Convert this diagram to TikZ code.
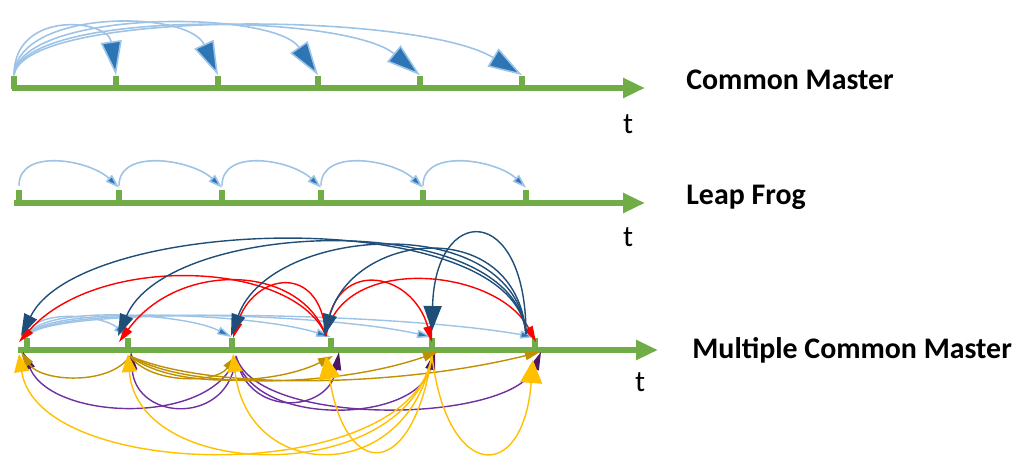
\documentclass[tikz,border=0pt]{standalone}
\usepackage{fontspec}
\setmainfont{Carlito}
\usetikzlibrary{arrows.meta}
\definecolor{tgreen}{RGB}{112,173,71}
\definecolor{lblue}{RGB}{157,195,230}
\definecolor{mblue}{RGB}{46,117,182}
\definecolor{dblue}{RGB}{31,78,121}
\definecolor{pred}{RGB}{255,0,0}
\definecolor{ppurple}{RGB}{112,48,160}
\definecolor{dpurple}{RGB}{75,25,100}
\definecolor{dgold}{RGB}{191,144,0}
\definecolor{pyellow}{RGB}{255,192,0}
\begin{document}
\begin{tikzpicture}[x=0.02cm,y=-0.02cm,
 axisline/.style={draw=tgreen,line width=3.4pt,-{Triangle[length=0.44cm,width=0.38cm]}},
 tickbox/.style={fill=tgreen,inner sep=0pt,minimum width=0.12cm,minimum height=0.26cm},
 cmarc/.style={draw=lblue,line width=0.9pt,-{Triangle[length=0.68cm,width=0.42cm,fill=mblue]}},
 lfarc/.style={draw=lblue,line width=0.9pt,-{Triangle[length=0.28cm,width=0.18cm,fill=mblue]}},
 lbarc/.style={draw=lblue,line width=0.8pt,-{Triangle[length=0.3cm,width=0.16cm,fill=mblue]}},
 dbarc/.style={draw=dblue,line width=0.8pt,-{Triangle[length=0.44cm,width=0.28cm]}},
 dbbig/.style={draw=dblue,line width=0.8pt,-{Triangle[length=0.5cm,width=0.36cm]}},
 redarc/.style={draw=pred,line width=0.8pt,-{Triangle[length=0.32cm,width=0.18cm]}},
 purarc/.style={draw=ppurple,line width=0.8pt,-{Triangle[length=0.36cm,width=0.2cm,color=dpurple]}},
 goldarc/.style={draw=dgold,line width=0.8pt,-{Triangle[length=0.3cm,width=0.18cm]}},
 yelarc/.style={draw=pyellow,line width=0.8pt,-{Triangle[length=0.36cm,width=0.3cm]}},
 yelbig/.style={draw=pyellow,line width=0.8pt,-{Triangle[length=0.46cm,width=0.44cm]}},
 lbl/.style={anchor=west,inner sep=0pt,font=\bfseries\fontsize{17}{20}\selectfont},
 tlbl/.style={inner sep=0pt,font=\fontsize{17}{20}\selectfont}]
\useasboundingbox (0,0) rectangle (1017,457);

% ---------- Row 1: Common Master ----------
\coordinate (A0) at (12,88);
\coordinate (A9) at (645,88);
\draw[axisline] (A0) -- (A9);
\foreach \x [count=\i] in {14,116,218,318,420,522}
  \node[tickbox] (A\i) at (\x,82) {};
\draw[cmarc] (A1.north) .. controls +(0,-66) and +(-8,-56) .. (A2.north);
\draw[cmarc] (A1.north) .. controls +(3,-66) and +(-30,-66) .. (A3.north);
\draw[cmarc] (A1.north) .. controls +(6,-66) and +(-45,-66) .. (A4.north);
\draw[cmarc] (A1.north) .. controls +(8,-66) and +(-75,-62) .. (A5.north);
\draw[cmarc] (A1.north) .. controls +(10,-66) and +(-105,-64) .. (A6.north);
\node[lbl] (L1) at (686,80) {Common Master};
\node[tlbl] (T1) at (628,124) {t};

% ---------- Row 2: Leap Frog ----------
\coordinate (B0) at (14,203);
\coordinate (B9) at (645,203);
\draw[axisline] (B0) -- (B9);
\foreach \x [count=\i] in {19,119,222,321,423,526}
  \node[tickbox] (B\i) at (\x,196.5) {};
\foreach \i/\j in {1/2,2/3,3/4,4/5,5/6}
  \draw[lfarc] ([yshift=0.08cm]B\i.north) .. controls +(0,-38) and +(-30,-28) .. ([yshift=0.04cm]B\j.north);
\node[lbl] (L2) at (686,197) {Leap Frog};
\node[tlbl] (T2) at (628,237) {t};

% ---------- Row 3: Multiple Common Master ----------
\coordinate (C0) at (18,350);
\coordinate (C9) at (658,350);
\draw[axisline] (C0) -- (C9);
\foreach \x [count=\i] in {27,128,232,331,432,535}
  \node[tickbox] (C\i) at (\x,344) {};

% light blue arcs from tick 1
\coordinate (lb0) at (27,337);
\draw[lbarc] (lb0) .. controls +(5,-30) and +(-25,-22) .. (C2.north);
\draw[lbarc] (lb0) .. controls +(8,-32) and +(-50,-25) .. (C3.north);
\draw[lbarc] (lb0) .. controls +(10,-32) and +(-80,-25) .. (C4.north);
\draw[lbarc] (lb0) .. controls +(12,-32) and +(-110,-25) .. (C5.north);
\draw[lbarc] (lb0) .. controls +(14,-32) and +(-140,-25) .. (C6.north);

% red arcs from tick 4
\coordinate (R0) at (326,336);
\coordinate (r1) at (19,342);
\coordinate (r2) at (119,342);
\coordinate (r3) at (233,338);
\coordinate (r5) at (432,342);
\coordinate (r6) at (536,342);
\draw[redarc] (R0) .. controls +(-30,-75) and +(80,-90) .. (r1);
\draw[redarc] (R0) .. controls +(-25,-72) and +(60,-82) .. (r2);
\draw[redarc] (R0) .. controls +(-5,-75) and +(20,-65) .. (r3);
\draw[redarc] (R0) .. controls +(5,-80) and +(-20,-72) .. (r5);
\draw[redarc] (R0) .. controls +(15,-82) and +(-40,-75) .. (r6);

% dark blue arcs from tick 6
\coordinate (D0) at (526,334);
\coordinate (d1) at (21,336);
\coordinate (d2) at (118,336);
\coordinate (d3) at (231,336);
\coordinate (d4) at (324,336);
\coordinate (d5) at (432,331);
\draw[dbarc] (D0) .. controls +(-10,-130) and +(60,-122) .. (d1);
\draw[dbarc] (D0) .. controls +(-10,-127) and +(50,-118) .. (d2);
\draw[dbarc] (D0) .. controls +(-10,-124) and +(40,-112) .. (d3);
\draw[dbarc] (D0) .. controls +(-10,-120) and +(30,-105) .. (d4);
\draw[dbbig] (D0) .. controls +(0,-132) and +(3,-128) .. (d5);

% purple arcs from tick 3
\coordinate (P0) at (236,356);
\coordinate (p1) at (23,352);
\coordinate (p2) at (131,352);
\coordinate (p4) at (339,352);
\coordinate (p5) at (435,352);
\coordinate (p6) at (541,352);
\draw[purarc] (P0) .. controls +(-20,70) and +(30,70) .. (p1);
\draw[purarc] (P0) .. controls +(-5,70) and +(5,70) .. (p2);
\draw[purarc] (P0) .. controls +(10,62) and +(-10,62) .. (p4);
\draw[purarc] (P0) .. controls +(15,72) and +(-20,72) .. (p5);
\draw[purarc] (P0) .. controls +(20,72) and +(-30,72) .. (p6);

% dark gold arcs from tick 2
\coordinate (G0) at (130,356);
\coordinate (g1) at (21,352);
\coordinate (g3) at (236,356);
\coordinate (g4) at (333,356);
\coordinate (g5) at (438,352);
\coordinate (g6) at (540,352);
\draw[goldarc] (G0) .. controls +(-20,30) and +(20,30) .. (g1);
\draw[goldarc] (G0) .. controls +(20,28) and +(-20,28) .. (g3);
\draw[goldarc] (G0) .. controls +(40,32) and +(-60,30) .. (g4);
\draw[goldarc] (G0) .. controls +(60,35) and +(-100,35) .. (g5);
\draw[goldarc] (G0) .. controls +(80,35) and +(-140,35) .. (g6);

% yellow arcs from tick 5
\coordinate (Y0) at (432,356);
\coordinate (y1) at (19,354);
\coordinate (y2) at (128,354);
\coordinate (y3) at (233,354);
\coordinate (y4) at (326,356);
\coordinate (y6) at (533,360);
\draw[yelarc] (Y0) .. controls +(-20,130) and +(20,130) .. (y1);
\draw[yelarc] (Y0) .. controls +(-25,130) and +(10,130) .. (y2);
\draw[yelarc] (Y0) .. controls +(-25,130) and +(15,130) .. (y3);
\draw[yelbig] (Y0) .. controls +(-20,125) and +(20,125) .. (y4);
\draw[yelbig] (Y0) .. controls +(15,125) and +(-10,125) .. (y6);

\node[lbl] (L3) at (692,350) {Multiple Common Master};
\node[tlbl] (T3) at (640,382) {t};
\end{tikzpicture}
\end{document}
